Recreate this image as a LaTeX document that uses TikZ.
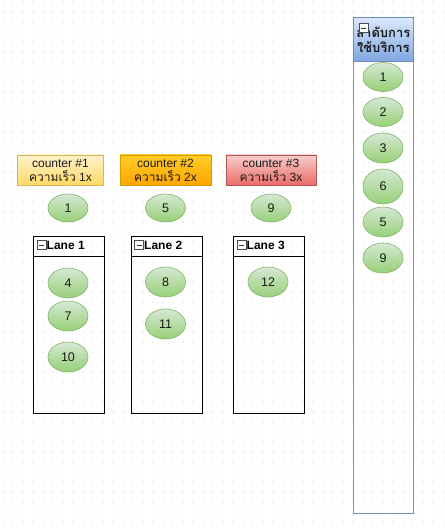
\documentclass[tikz,border=0pt]{standalone}
\usepackage{fontspec}
\setmainfont{Liberation Sans}
\newfontfamily\thaifont[Script=Thai]{Loma}
\usetikzlibrary{shapes.geometric}
\definecolor{gridc}{HTML}{C4C4C4}
\definecolor{balltop}{HTML}{D5E8D4}
\definecolor{ballbot}{HTML}{97D077}
\definecolor{ballline}{HTML}{82B366}
\definecolor{yTop}{HTML}{FFF2CC}
\definecolor{yBot}{HTML}{FFD966}
\definecolor{yLine}{HTML}{D6B656}
\definecolor{oTop}{HTML}{FFCD28}
\definecolor{oBot}{HTML}{FFA500}
\definecolor{oLine}{HTML}{D79B00}
\definecolor{rTop}{HTML}{F8CECC}
\definecolor{rBot}{HTML}{EA6B66}
\definecolor{rLine}{HTML}{B85450}
\definecolor{bTop}{HTML}{DAE8FC}
\definecolor{bBot}{HTML}{7EA6E0}
\definecolor{bLine}{HTML}{6C8EBF}
\definecolor{poolLine}{HTML}{7D93A8}
\definecolor{txt}{HTML}{1A1A1A}
\tikzset{
  ball/.style={ellipse, draw=ballline, line width=0.6pt, top color=balltop, bottom color=ballbot,
    minimum width=40pt, minimum height=30pt, inner sep=0pt, text=txt,
    font=\fontsize{12.5}{14}\selectfont},
  counterbox/.style={rectangle, line width=0.6pt, minimum width=86pt, minimum height=30pt,
    inner sep=0pt, align=center, text=txt, font=\fontsize{12}{14}\selectfont},
  lanebox/.style={rectangle, draw=black, line width=0.8pt, minimum width=71pt, minimum height=177pt,
    inner sep=0pt, anchor=north west},
  lanehead/.style={rectangle, draw=black, line width=0.8pt, minimum width=71pt, minimum height=20pt,
    inner sep=0pt, anchor=north west},
  lanetitle/.style={anchor=west, inner sep=0pt, font=\bfseries\fontsize{12}{14}\selectfont},
  minusicon/.style={rectangle, draw=black!70, fill=white, line width=0.4pt, minimum width=9pt,
    minimum height=9pt, inner sep=0pt, path picture={\draw[black!80, line width=0.7pt]
      ([xshift=2pt]path picture bounding box.west) -- ([xshift=-2pt]path picture bounding box.east);}}
}
\begin{document}
\begin{tikzpicture}[x=1pt,y=-1pt]
\useasboundingbox (0,0) rectangle (444,529);
\fill[white] (0,0) rectangle (444,529);
% dotted grid
\foreach \i in {0,...,44}{
  \foreach \j in {0,...,52}{
    \fill[gridc] (3+10*\i,2+10*\j) circle[radius=0.55pt];
  }
}
% counters
\node[counterbox, draw=yLine, top color=yTop, bottom color=yBot] (c1) at (60.5,170)
  {counter \#1\\{\thaifont ความเร็ว} 1x};
\node[counterbox, minimum width=91pt, draw=oLine, top color=oTop, bottom color=oBot] (c2) at (165.5,170)
  {counter \#2\\{\thaifont ความเร็ว} 2x};
\node[counterbox, minimum width=90pt, draw=rLine, top color=rTop, bottom color=rBot] (c3) at (271,170)
  {counter \#3\\{\thaifont ความเร็ว} 3x};
\node[ball, minimum height=28pt] (k1) at (68,208) {1};
\node[ball, minimum height=28pt] (k5) at (165.5,208) {5};
\node[ball, minimum height=28pt] (k9) at (271,208) {9};
% lanes
\node[lanebox] (l1) at (33,235.5) {};
\node[lanehead] (h1) at (33,235.5) {};
\node[minusicon] (m1) at (41.5,245) {};
\node[lanetitle] (t1) at (46.5,245.5) {Lane 1};
\node[lanebox] (l2) at (130.5,235.5) {};
\node[lanehead] (h2) at (130.5,235.5) {};
\node[minusicon] (m2) at (139,245) {};
\node[lanetitle] (t2) at (144,245.5) {Lane 2};
\node[lanebox] (l3) at (233,235.5) {};
\node[lanehead] (h3) at (233,235.5) {};
\node[minusicon] (m3) at (241.5,245) {};
\node[lanetitle] (t3) at (246.5,245.5) {Lane 3};
\node[ball] (a4) at (68,283) {4};
\node[ball] (a7) at (68,316) {7};
\node[ball] (a10) at (68,357) {10};
\node[ball] (a8) at (165.5,282) {8};
\node[ball] (a11) at (165.5,324) {11};
\node[ball] (a12) at (268,282) {12};
% pool
\node[rectangle, draw=poolLine, line width=0.7pt, minimum width=60pt, minimum height=495pt,
  inner sep=0pt, anchor=north west] (pool) at (353,17.5) {};
\node[rectangle, draw=bLine, line width=0.7pt, top color=bTop, bottom color=bBot,
  minimum width=60pt, minimum height=44pt, inner sep=0pt, anchor=north west,
  align=center, text=txt, font=\thaifont\bfseries\fontsize{13}{15.5}\selectfont] (ph) at (353,17.5)
  {ลำดับการ\\ใช้บริการ};
\node[minusicon] (pm) at (363.5,28) {};
\node[ball, minimum height=29pt] (q1) at (383,77) {1};
\node[ball, minimum height=29pt] (q2) at (383,112) {2};
\node[ball] (q3) at (383,148) {3};
\node[ball, minimum height=35pt] (q6) at (383,186.5) {6};
\node[ball] (q5) at (383,222) {5};
\node[ball] (q9) at (383,258) {9};
\end{tikzpicture}
\end{document}
